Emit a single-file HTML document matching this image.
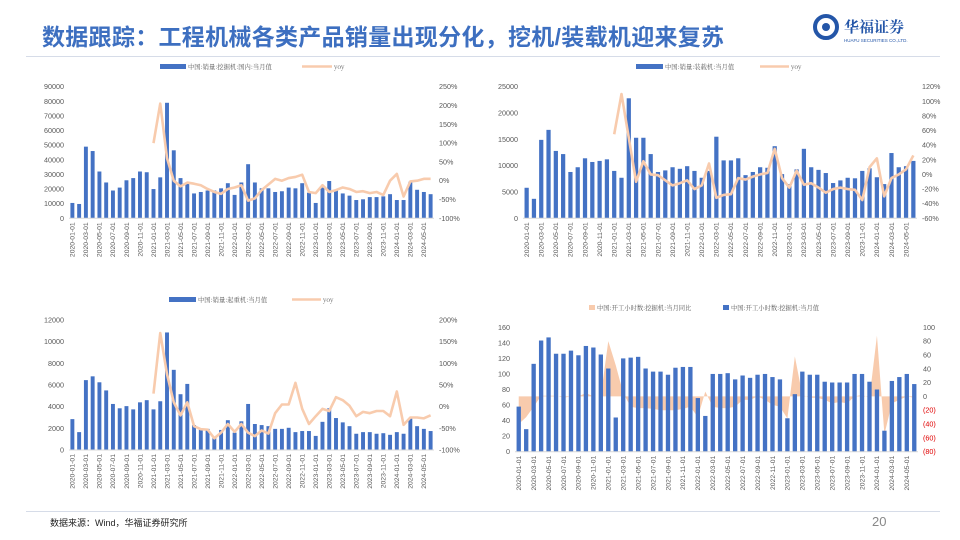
<!DOCTYPE html>
<html><head><meta charset="utf-8">
<style>
html,body{margin:0;padding:0;background:#fff;}
body{width:960px;height:540px;position:relative;overflow:hidden;font-family:"Liberation Sans","Noto Sans CJK SC",sans-serif;}
#title{position:absolute;left:42px;top:18px;font-size:23px;font-weight:bold;color:#3d6fc0;letter-spacing:0.3px;white-space:nowrap;}
#hline{position:absolute;left:26px;top:56px;width:914px;height:1px;background:#d6dce8;}
#fline{position:absolute;left:26px;top:511px;width:914px;height:1px;background:#d6dce8;}
#src{position:absolute;left:50px;top:516px;font-size:9px;color:#222;}
#pg{position:absolute;left:872px;top:514px;font-size:13px;color:#888;}
#logo{position:absolute;left:812px;top:10px;width:130px;height:40px;}
svg#charts{position:absolute;left:0;top:0;}
</style></head><body>
<div id="title">数据跟踪：工程机械各类产品销量出现分化，挖机/装载机迎来复苏</div>
<svg id="logo" width="130" height="40" viewBox="0 0 130 40">
  <circle cx="14" cy="17" r="11" fill="none" stroke="#2456a8" stroke-width="4"/>
  <circle cx="14" cy="17" r="4" fill="#2456a8"/>
  <text x="32" y="22" font-size="15" font-weight="bold" fill="#2456a8" font-family="Noto Serif CJK SC, serif">华福证券</text>
  <text x="32" y="32" font-size="4.5" fill="#2456a8">HUAFU SECURITIES CO.,LTD.</text>
</svg>
<div id="hline"></div>
<div id="fline"></div>
<div id="src">数据来源：Wind，华福证券研究所</div>
<div id="pg">20</div>
<svg id="charts" width="960" height="540"></svg>
<script>
// ---- data ----
const excSales=[10500,9800,49000,46000,32000,24500,19000,21000,26000,27500,32000,31500,20000,28000,79000,46500,27500,24000,17000,18000,19000,19000,20500,24000,16000,24500,37000,24500,20500,20500,18000,18500,21000,20500,24000,17500,10500,21000,25500,19500,17000,15500,12500,13000,14500,14500,15000,16500,12500,12500,25000,19500,18000,16500];
const excYoy=[100,205,60,0,-15,-5,-8,-12,-22,-30,-35,-22,-18,-12,-53,-47,-25,-10,5,0,7,10,16,-30,-33,-12,-30,-25,-18,-22,-30,-28,-33,-30,-38,0,18,-42,-2,0,5,5];
const ldrSales=[5800,3700,14900,16800,12800,12200,8800,9700,11400,10700,10900,11200,9000,7700,22800,15300,15300,12200,8800,9100,9700,9400,9900,9000,7700,9000,15500,11000,11000,11400,8200,8800,9700,9600,13700,8400,6500,9300,13200,9700,9200,8600,6700,7200,7700,7600,9000,9500,7800,6500,12400,9700,9900,10900];
const ldrYoy=[55,110,50,-10,18,0,-1,-8,-15,-12,-8,-20,-15,15,-32,-28,-27,-5,-7,-3,0,2,35,-5,-18,5,-14,-12,-18,-25,-20,-18,-20,-21,-35,10,22,-30,-5,0,7,26];
const crnSales=[2850,1650,6450,6800,6250,5500,4250,3850,4050,3750,4400,4600,3750,4500,10850,7400,5150,6100,2300,1900,1950,1100,1850,2750,1600,2650,4250,2400,2300,2200,1950,1950,2050,1650,1750,1750,1300,2600,3850,2950,2550,2200,1500,1650,1650,1500,1550,1400,1650,1500,2900,2200,1950,1750];
const crnYoy=[30,170,75,10,-20,10,-45,-52,-53,-73,-60,-40,-58,-40,-60,-68,-55,-62,-15,5,5,55,-5,-40,-22,-5,-10,22,15,2,-22,-12,-15,-10,-10,-22,35,-42,-25,-25,-27,-20];
const hrsValues=[58,29,113,143,147,126,126,130,124,136,134,125,107,44,120,121,122,107,103,103,99,108,109,109,69,46,100,100,101,93,98,95,99,100,96,93,43,74,103,99,99,90,89,89,89,100,100,90,80,27,91,96,100,87];
const hrsYoy=[-40,-30,-15,1,1,1,-2,0,0,5,0,0,80,45,5,-15,-17,-17,-18,-20,-20,-20,-18,-15,-30,7,-15,-17,-17,-15,-5,-5,0,-5,-12,-15,-32,58,2,-2,-2,-5,-10,-8,-10,0,2,-2,88,-55,-10,-5,0,-2];
const months=[];
for(let y=2020;y<=2024;y++)for(let m=1;m<=12;m++){if(months.length<54)months.push(y+'-'+(m<10?'0':'')+m+'-01');}
const excLeftTicks=[0,10000,20000,30000,40000,50000,60000,70000,80000,90000];
const excRightTicks=[-100,-50,0,50,100,150,200,250];
const ldrLeftTicks=[0,5000,10000,15000,20000,25000];
const ldrRightTicks=[-60,-40,-20,0,20,40,60,80,100,120];
const crnLeftTicks=[0,2000,4000,6000,8000,10000,12000];
const crnRightTicks=[-100,-50,0,50,100,150,200];
const hrsLeftTicks=[0,20,40,60,80,100,120,140,160];
const hrsRightTicks=[-80,-60,-40,-20,0,20,40,60,80,100];

const NS='http://www.w3.org/2000/svg';
const root=document.getElementById('charts');
function mk(tag,attrs,parent){const e=document.createElementNS(NS,tag);for(const k in attrs)e.setAttribute(k,attrs[k]);(parent||root).appendChild(e);return e;}
const BLUE='#4472c4',ORANGE='#f8cbad',TXT='#595959';

function chart(cfg){
  const g=mk('g',{});
  
  
  const n=months.length, band=(cfg.R-cfg.L)/n;
  const xc=i=>cfg.L+band*(i+0.5);
  const lmax=cfg.lt[cfg.lt.length-1];
  const yl=v=>cfg.y0-(v/lmax)*(cfg.y0-cfg.top);
  const rmin=cfg.rt[0],rmax=cfg.rt[cfg.rt.length-1];
  const yr=v=>cfg.y0-((v-rmin)/(rmax-rmin))*(cfg.y0-cfg.top);
  // area (chart 4)
  if(cfg.area){
    let d='M'+xc(0)+','+yr(0);
    cfg.area.forEach((v,i)=>{d+=' L'+xc(i)+','+yr(v);});
    d+=' L'+xc(cfg.area.length-1)+','+yr(0)+' Z';
    const a=mk('path',{d:d,fill:ORANGE,stroke:'none'},g);
    
    
  }
  // bars
  cfg.bars.forEach((v,i)=>{
    const w=band*0.58;
    const r=mk('rect',{x:xc(i)-w/2,y:yl(v),width:w,height:cfg.y0-yl(v),fill:BLUE},g);
    
    
  });
  // line
  if(cfg.line){
    const off=n-cfg.line.length;
    const pts=cfg.line.map((v,i)=>xc(i+off)+','+yr(v)).join(' ');
    const l=mk('polyline',{points:pts,fill:'none',stroke:ORANGE,'stroke-width':2.6,'stroke-linejoin':'round'},g);
    
    
  }
  // axis
  const ax=mk('line',{x1:cfg.L,x2:cfg.R,y1:cfg.y0,y2:cfg.y0,stroke:'#d9d9d9','stroke-width':1},g);
  
  
  // left ticks
  cfg.lt.forEach(v=>{
    const t=mk('text',{x:cfg.L-5,y:yl(v)+2.5,'font-size':7.2,fill:TXT,'text-anchor':'end'},g);
    t.textContent=v;
    
    
  });
  cfg.rt.forEach(v=>{
    const t=mk('text',{x:cfg.R+5,y:yr(v)+2.5,'font-size':7.2,fill:(cfg.paren&&v<0)?'#e00000':TXT},g);
    t.textContent=cfg.paren?(v<0?'('+(-v)+')':v):v+'%';
    
    
  });
  // x labels
  months.forEach((m,i)=>{
    if(i%2)return;
    const x=xc(i)+2.3,y=cfg.y0+4;
    const t=mk('text',{x:x,y:y,'font-size':6.8,fill:TXT,'text-anchor':'end',transform:'rotate(-90 '+x+' '+y+')'},g);
    t.textContent=m;
    
    
  });
  // legend
  const lg=mk('g',{},g);
  
  
  cfg.legend.forEach(it=>{
    if(it.type==='bar')mk('rect',{x:it.x,y:cfg.ly-3,width:it.w,height:5,fill:it.c||BLUE},lg);
    else mk('line',{x1:it.x,x2:it.x+it.w,y1:cfg.ly-0.5,y2:cfg.ly-0.5,stroke:ORANGE,'stroke-width':2.5},lg);
    const t=mk('text',{x:it.x+it.w+2,y:cfg.ly+2,'font-size':6.3,fill:TXT,'font-family':'Noto Serif CJK SC, serif'},lg);
    t.textContent=it.t;
  });
}
chart({name:'excavator-sales-chart',L:69,R:434,y0:218.3,top:86.7,bars:excSales,line:excYoy,lt:excLeftTicks,rt:excRightTicks,ly:67,
  legend:[{type:'bar',x:160,w:26,t:'中国:销量:挖掘机:国内:当月值'},{type:'line',x:302,w:30,t:'yoy'}]});
chart({name:'loader-sales-chart',L:523,R:917,y0:218.3,top:86.7,bars:ldrSales,line:ldrYoy,lt:ldrLeftTicks,rt:ldrRightTicks,ly:67,
  legend:[{type:'bar',x:636,w:27,t:'中国:销量:装载机:当月值'},{type:'line',x:760,w:29,t:'yoy'}]});
chart({name:'crane-sales-chart',L:69,R:434,y0:450,top:320,bars:crnSales,line:crnYoy,lt:crnLeftTicks,rt:crnRightTicks,ly:300,
  legend:[{type:'bar',x:169,w:27,t:'中国:销量:起重机:当月值'},{type:'line',x:292,w:29,t:'yoy'}]});
chart({name:'excavator-hours-chart',L:515,R:918,y0:451.7,top:327.3,bars:hrsValues,area:hrsYoy,lt:hrsLeftTicks,rt:hrsRightTicks,ly:308,paren:true,
  legend:[{type:'bar',x:589,w:6,c:ORANGE,t:'中国:开工小时数:挖掘机:当月同比'},{type:'bar',x:723,w:6,t:'中国:开工小时数:挖掘机:当月值'}]});
</script>
</body></html>
